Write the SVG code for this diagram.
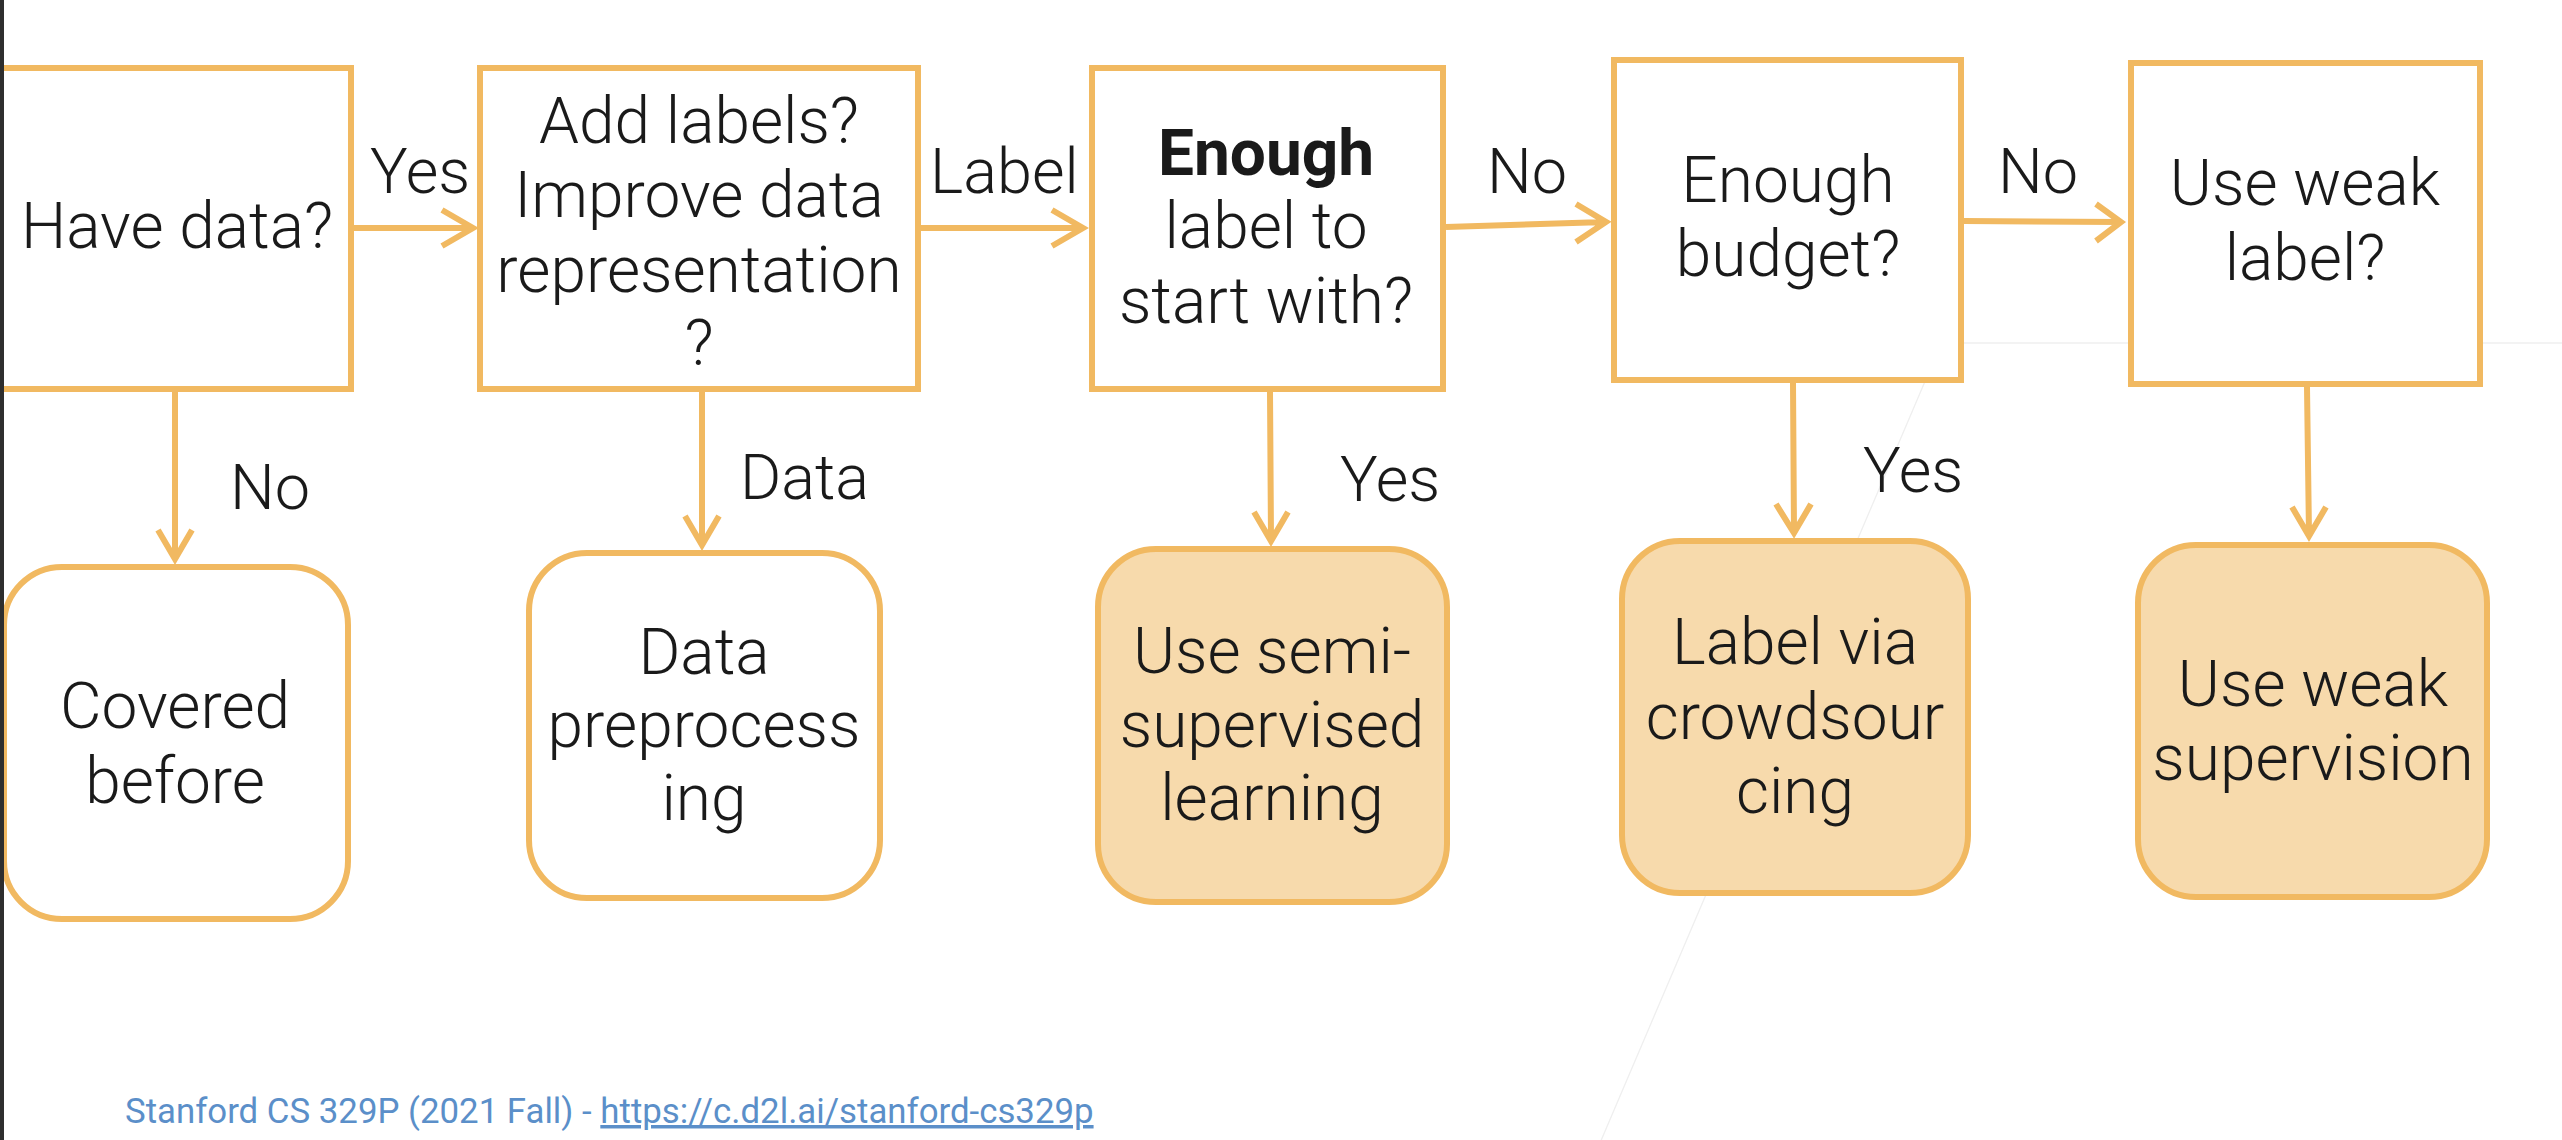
<svg xmlns="http://www.w3.org/2000/svg" width="2562" height="1140" viewBox="0 0 2562 1140">
<style>
.box{fill:#ffffff;stroke:#F1B961;stroke-width:6}
.rbox{fill:#F7DAAC;stroke:#F1B961;stroke-width:6}
.wbox{fill:#ffffff;stroke:#F1B961;stroke-width:6}
.edge{fill:none;stroke:#F1B961;stroke-width:6;stroke-linecap:butt;stroke-linejoin:miter}
.t{font-family:Roboto,"Liberation Sans",sans-serif;font-weight:300;font-size:64px;fill:#1a1a1a;text-anchor:middle}
.lbl{font-family:Roboto,"Liberation Sans",sans-serif;font-weight:300;font-size:63px;fill:#1a1a1a}
.b{font-weight:700}
.faint{stroke:#efefef;stroke-width:1.3;fill:none}
.foot{font-family:Roboto,"Liberation Sans",sans-serif;font-size:34.8px;fill:#5B8FC9}
</style>
<rect x="0" y="0" width="2562" height="1140" fill="#ffffff"/>
<g id="background">
<line class="faint" x1="1935" y1="358" x2="1597" y2="1150"/>
<line class="faint" x1="1964" y1="343" x2="2562" y2="343"/>
</g>
<g id="connectors">
<path class="edge" d="M354,228 H472 M442,210 L473,228 L442,246"/>
<path class="edge" d="M921,228 H1082 M1052,210 L1083,228 L1052,246"/>
<path class="edge" d="M1446,227 L1605,222 M1576,204 L1606,222 L1576,242"/>
<path class="edge" d="M1964,221 L2120,222 M2096,204 L2121,222 L2096,241"/>
<path class="edge" d="M175,392 V558 M158,530 L175,559 L192,530"/>
<path class="edge" d="M702,392 V544 M685,516 L702,545 L719,516"/>
<path class="edge" d="M1270,392 L1271,540 M1254,512 L1271,541 L1288,512"/>
<path class="edge" d="M1793,383 L1794,532 M1776,504 L1794,533 L1811,504"/>
<path class="edge" d="M2307,387 L2309,535 M2292,507 L2309,536 L2326,507"/>
<text class="lbl" x="370" y="193">Yes</text>
<text class="lbl" x="930" y="193">Label</text>
<text class="lbl" x="1487" y="193">No</text>
<text class="lbl" x="1998" y="193">No</text>
<text class="lbl" x="230" y="509">No</text>
<text class="lbl" x="740" y="499">Data</text>
<text class="lbl" x="1340" y="501">Yes</text>
<text class="lbl" x="1863" y="492">Yes</text>
</g>
<g id="n-have-data">
<rect class="box" x="-10" y="68" width="361" height="321"/>
<text class="t" x="177" y="248">Have data?</text>
</g>
<g id="n-add-labels">
<rect class="box" x="480" y="68" width="438" height="321"/>
<text class="t" x="699" y="143">Add labels?</text>
<text class="t" x="699" y="217">Improve data</text>
<text class="t" x="699" y="292">representation</text>
<text class="t" x="699" y="365">?</text>
</g>
<g id="n-enough-label">
<rect class="box" x="1092" y="68" width="351" height="321"/>
<text class="t b" x="1266" y="175">Enough</text>
<text class="t" x="1266" y="248">label to</text>
<text class="t" x="1266" y="323">start with?</text>
</g>
<g id="n-enough-budget">
<rect class="box" x="1614" y="60" width="347" height="320"/>
<text class="t" x="1788" y="202">Enough</text>
<text class="t" x="1788" y="276">budget?</text>
</g>
<g id="n-weak-label">
<rect class="box" x="2131" y="63" width="349" height="321"/>
<text class="t" x="2305" y="205">Use weak</text>
<text class="t" x="2305" y="280">label?</text>
</g>
<g id="n-covered">
<rect class="wbox" x="4" y="567" width="344" height="352" rx="58" ry="58"/>
<text class="t" x="175" y="728">Covered</text>
<text class="t" x="175" y="803">before</text>
</g>
<g id="n-preprocessing">
<rect class="wbox" x="529" y="553" width="351" height="345" rx="58" ry="58"/>
<text class="t" x="704" y="674">Data</text>
<text class="t" x="704" y="747">preprocess</text>
<text class="t" x="704" y="820">ing</text>
</g>
<g id="n-semi">
<rect class="rbox" x="1098" y="549" width="349" height="353" rx="58" ry="58"/>
<text class="t" x="1272" y="673">Use semi-</text>
<text class="t" x="1272" y="747">supervised</text>
<text class="t" x="1272" y="820">learning</text>
</g>
<g id="n-crowd">
<rect class="rbox" x="1622" y="541" width="346" height="352" rx="58" ry="58"/>
<text class="t" x="1795" y="664">Label via</text>
<text class="t" x="1795" y="739">crowdsour</text>
<text class="t" x="1795" y="813">cing</text>
</g>
<g id="n-weak-sup">
<rect class="rbox" x="2138" y="545" width="349" height="352" rx="58" ry="58"/>
<text class="t" x="2313" y="706">Use weak</text>
<text class="t" x="2313" y="780">supervision</text>
</g>
<rect x="0" y="0" width="4" height="1140" fill="#2e2e2e"/>
<g id="footer">
<text class="foot" x="125" y="1123">Stanford CS 329P (2021 Fall) - <tspan text-decoration="underline">https://c.d2l.ai/stanford-cs329p</tspan></text>
</g>
</svg>
